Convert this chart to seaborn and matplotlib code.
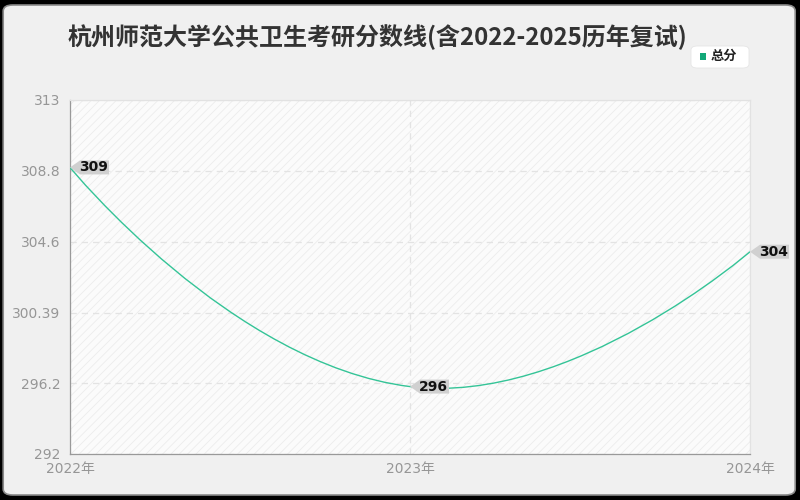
import numpy as np
import pandas as pd
import matplotlib
matplotlib.use("Agg")
import matplotlib.pyplot as plt
import seaborn as sns
from matplotlib.patches import FancyBboxPatch, Rectangle, Polygon
from matplotlib.path import Path
from matplotlib.patches import PathPatch

# ---- data ----
years = [2022, 2023, 2024]
year_labels = ["2022年", "2023年", "2024年"]
scores = [309, 296, 304]
y_ticks = [292, 296.2, 300.39, 304.6, 308.8, 313]
y_tick_labels = ["292", "296.2", "300.39", "304.6", "308.8", "313"]
series_name = "总分"
title = "杭州师范大学公共卫生考研分数线(含2022-2025历年复试)"

LINE = "#34c497"
sns.set_theme(style="white")
plt.rcParams['font.family'] = ['Noto Sans CJK SC', 'DejaVu Sans']
plt.rcParams['hatch.linewidth'] = 0.6

fig = plt.figure(figsize=(8, 5), dpi=100)
fig.patch.set_facecolor("#000000")
bg = FancyBboxPatch((0.004, 0.01), 0.99, 0.98, boxstyle="round,pad=0,rounding_size=0.012",
                    transform=fig.transFigure, facecolor="#f0f0f0", edgecolor="#8a8a8a",
                    linewidth=1.2, zorder=-5)
fig.patches.append(bg)

ax = fig.add_axes([0.0875, 0.092, 0.85, 0.708])
ax.set_facecolor("#fbfbfb")
ax.add_patch(Rectangle((0, 0), 1, 1, transform=ax.transAxes, facecolor="none",
                       edgecolor="#ececec", hatch="////", linewidth=0, zorder=0))

df = pd.DataFrame({"year": years, "score": scores})
sns.lineplot(data=df, x="year", y="score", ax=ax, linewidth=0, legend=False)

ax.set_xlim(2022, 2024)
ax.set_ylim(292, 313)

# smooth curve (ECharts-like bezier), computed in pixel-like space
W, H = 680.0, 354.0
px = [(x - 2022) / 2 * W for x in years]
py = [(y - 292) / 21 * H for y in scores]
pts = list(zip(px, py))
smooth = 0.5
cps = []
for i, p in enumerate(pts):
    if i == 0 or i == len(pts) - 1:
        cps.append((p, p))
        continue
    p0, p2 = pts[i - 1], pts[i + 1]
    vx, vy = p2[0] - p0[0], p2[1] - p0[1]
    d0 = np.hypot(p[0] - p0[0], p[1] - p0[1])
    d1 = np.hypot(p2[0] - p[0], p2[1] - p[1])
    s0 = smooth * d0 / (d0 + d1)
    s1 = smooth * d1 / (d0 + d1)
    cps.append(((p[0] - vx * s0, p[1] - vy * s0), (p[0] + vx * s1, p[1] + vy * s1)))
def todata(q):
    return (q[0] / W * 2 + 2022, q[1] / H * 21 + 292)
verts = [todata(pts[0])]
codes = [Path.MOVETO]
for i in range(1, len(pts)):
    verts += [todata(cps[i - 1][1]), todata(cps[i][0]), todata(pts[i])]
    codes += [Path.CURVE4] * 3
ax.add_patch(PathPatch(Path(verts, codes), facecolor="none", edgecolor=LINE, linewidth=1.0, zorder=3))

# axes style
ax.set_yticks(y_ticks)
ax.set_yticklabels(y_tick_labels)
ax.set_xticks(years)
ax.set_xticklabels(year_labels)
ax.tick_params(axis="both", colors="#999999", labelsize=10, length=4, width=0.8, direction="out")
ax.tick_params(axis="x", pad=2)
ax.tick_params(axis="y", pad=3)
for lbl in ax.get_xticklabels() + ax.get_yticklabels():
    lbl.set_color("#969696")
    lbl.set_family(['DejaVu Sans', 'Noto Sans CJK SC'])
ax.grid(True, axis="both", linestyle=(0, (5, 4)), color="#e3e3e3", linewidth=0.9)
for s in ["top", "right"]:
    ax.spines[s].set_color("#e2e2e2")
    ax.spines[s].set_linewidth(0.9)
for s in ["left", "bottom"]:
    ax.spines[s].set_color("#999999")
    ax.spines[s].set_linewidth(0.9)
ax.set_xlabel("")
ax.set_ylabel("")

# labels with arrow-shaped boxes
fig.canvas.draw()
for x, y in zip(years, scores):
    tx, ty = ax.transData.transform((x, y))
    h = 14.0
    tri = 10.0
    wbox = 29.0
    poly = Polygon([(tx, ty), (tx + tri, ty + h / 2), (tx + tri + wbox, ty + h / 2),
                    (tx + tri + wbox, ty - h / 2), (tx + tri, ty - h / 2)],
                   closed=True, transform=None, facecolor="#d0d0d0", edgecolor="none",
                   zorder=5, clip_on=False)
    fig.patches.append(poly)
    fig.text((tx + tri + wbox / 2 - 1) / 800, (ty) / 500, str(y), ha="center", va="center",
             fontsize=10, fontweight="bold", color="#111111", family="DejaVu Sans", zorder=6)

# title
fig.text(0.085, 0.926, title, ha="left", va="center", fontsize=17.3, fontweight="bold", color="#333333")

# legend
leg = FancyBboxPatch((691 / 800, 1 - 68 / 500), 58 / 800, 22 / 500,
                     boxstyle="round,pad=0,rounding_size=0.008", transform=fig.transFigure,
                     facecolor="white", edgecolor="#e6e6e6", linewidth=0.6, zorder=2)
fig.patches.append(leg)
fig.patches.append(Rectangle((700 / 800, 1 - 59.5 / 500), 6 / 800, 6 / 500,
                             transform=fig.transFigure, facecolor="#12a878", edgecolor="none", zorder=3))
fig.text(711 / 800, 1 - 56 / 500, series_name, ha="left", va="center", fontsize=9.5,
         fontweight="bold", color="#222222")

fig.savefig("out.png", dpi=100, facecolor=fig.get_facecolor())
